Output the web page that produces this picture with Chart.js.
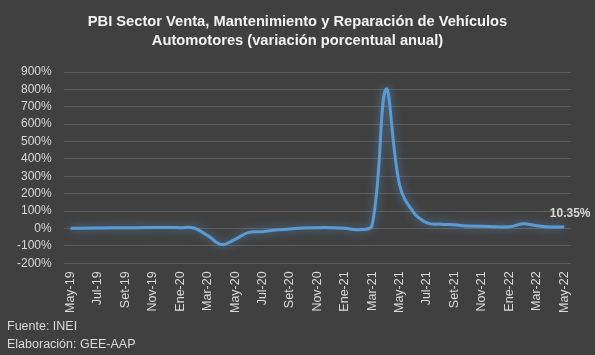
<!DOCTYPE html>
<html>
<head>
<meta charset="utf-8">
<script src="https://cdn.jsdelivr.net/npm/chart.js@4.4.1/dist/chart.umd.min.js"></script>
<style>
  html, body { margin: 0; padding: 0; background: #404040; }
  #wrap { width: 595px; height: 355px; position: relative; }
</style>
</head>
<body>
<div id="wrap"><canvas id="c" width="595" height="355"></canvas></div>
<script>
const titleLines = ["PBI Sector Venta, Mantenimiento y Reparación de Vehículos", "Automotores (variación porcentual anual)"];
const footerLines = ["Fuente: INEI", "Elaboración: GEE-AAP"];
const months = ["May-19","Jun-19","Jul-19","Ago-19","Set-19","Oct-19","Nov-19","Dic-19",
  "Ene-20","Feb-20","Mar-20","Abr-20","May-20","Jun-20","Jul-20","Ago-20","Set-20","Oct-20","Nov-20","Dic-20",
  "Ene-21","Feb-21","Mar-21","Abr-21","May-21","Jun-21","Jul-21","Ago-21","Set-21","Oct-21","Nov-21","Dic-21",
  "Ene-22","Feb-22","Mar-22","Abr-22","May-22"];
const variacion = [1, 2, 3, 4, 5, 5, 6, 6,
  5, 3, -40, -92, -62, -22, -18, -8, -3, 3, 5, 5,
  2, -7, 20, 800, 250, 95, 33, 25, 22, 14, 13, 10,
  10, 27, 16, 9, 10.35];
const lastLabel = "10.35%";

const TXT = '#d9d9d9';
const FONT = "'Liberation Sans', Arial, sans-serif";

const glow = {
  id: 'glow',
  beforeDatasetDraw(chart) {
    const ctx = chart.ctx;
    ctx.save();
    ctx.shadowColor = 'rgba(91,155,213,0.7)';
    ctx.shadowBlur = 10;
  },
  afterDatasetDraw(chart) {
    chart.ctx.restore();
  }
};

const extras = {
  id: 'extras',
  afterDraw(chart) {
    const ctx = chart.ctx;
    const meta = chart.getDatasetMeta(0);
    const pt = meta.data[meta.data.length - 1];
    ctx.save();
    // title
    ctx.fillStyle = '#f2f2f2';
    ctx.font = "bold 14.7px " + FONT;
    ctx.textAlign = 'center';
    ctx.textBaseline = 'middle';
    ctx.fillText(titleLines[0], chart.width / 2, 22);
    ctx.fillText(titleLines[1], chart.width / 2, 41);
    // data label
    ctx.fillStyle = TXT;
    ctx.font = "bold 12px " + FONT;
    ctx.fillText(lastLabel, pt.x + 6, pt.y - 13);
    // footer
    ctx.font = "12.5px " + FONT;
    ctx.textAlign = 'left';
    ctx.fillText(footerLines[0], 7, 327);
    ctx.fillText(footerLines[1], 7, 345);
    ctx.restore();
  }
};

new Chart(document.getElementById('c'), {
  type: 'line',
  data: {
    labels: months,
    datasets: [{
      data: variacion,
      borderColor: '#5b9bd5',
      borderWidth: 3,
      pointRadius: 0,
      tension: 0.4,
      fill: false
    }]
  },
  options: {
    responsive: false,
    animation: false,
    layout: { padding: { left: 5, right: 24, top: 72, bottom: 34 } },
    plugins: {
      legend: { display: false },
      tooltip: { enabled: false },
      title: { display: false }
    },
    scales: {
      x: {
        offset: true,
        grid: { display: false, drawTicks: false },
        border: { display: false },
        ticks: {
          autoSkip: false,
          maxRotation: 90,
          minRotation: 90,
          padding: 8,
          color: TXT,
          font: { family: FONT, size: 12.5 },
          callback: function(v, i) { return i % 2 === 0 ? months[i] : ''; }
        }
      },
      y: {
        min: -200,
        max: 900,
        grid: { color: '#5c5c5c', lineWidth: 1, drawTicks: false },
        border: { display: false },
        ticks: {
          stepSize: 100,
          autoSkip: false,
          padding: 12,
          color: TXT,
          font: { family: FONT, size: 12 },
          callback: v => v + '%'
        }
      }
    }
  },
  plugins: [glow, extras]
});
</script>
</body>
</html>
